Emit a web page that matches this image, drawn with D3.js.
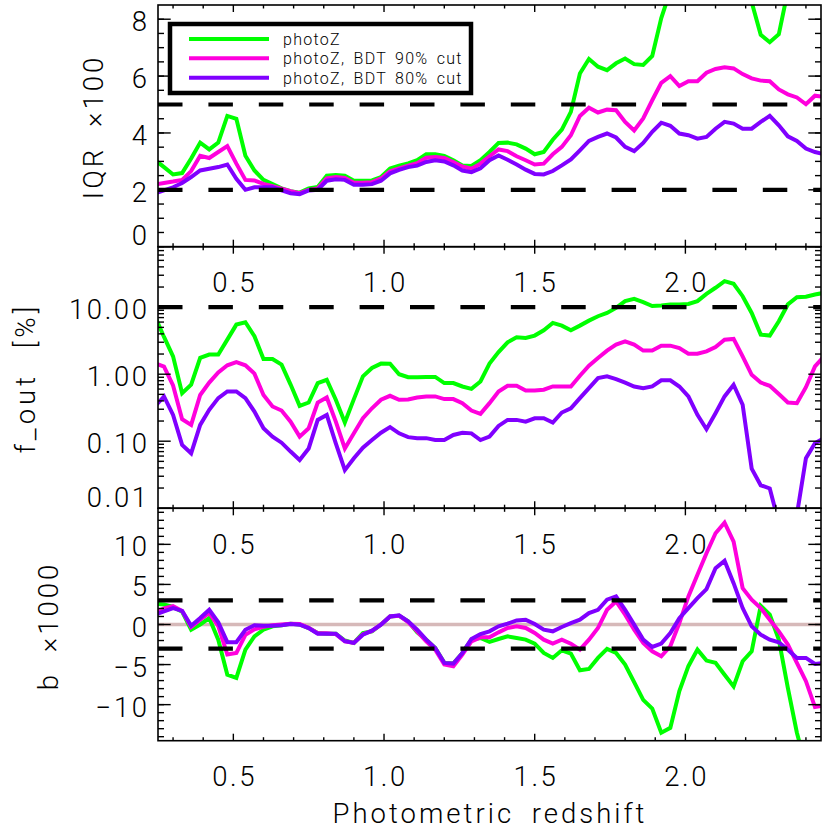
<!DOCTYPE html>
<html><head><meta charset="utf-8">
<script src="https://cdn.jsdelivr.net/npm/d3@7"></script>
<style>
html,body{margin:0;padding:0;background:#fff;}
svg text{font-family:Roboto,"DejaVu Sans",sans-serif;font-weight:300;fill:#000;}
</style></head><body>
<svg id="chart" width="830" height="830"></svg>
<script>
// ---------------- data ----------------
const redshift = [0.24,0.27,0.30,0.33,0.36,0.39,0.42,0.45,0.48,0.51,
  0.54,0.57,0.60,0.63,0.66,0.69,0.72,0.75,0.78,0.81,
  0.84,0.87,0.90,0.93,0.96,0.99,1.02,1.05,1.08,1.11,
  1.14,1.17,1.20,1.23,1.26,1.29,1.32,1.35,1.38,1.41,
  1.44,1.47,1.50,1.53,1.56,1.59,1.62,1.65,1.68,1.71,
  1.74,1.77,1.80,1.83,1.86,1.89,1.92,1.95,1.98,2.01,
  2.04,2.07,2.10,2.13,2.16,2.19,2.22,2.25,2.28,2.31,
  2.34,2.37,2.40,2.43,2.46];

const seriesNames = ["photoZ", "photoZ, BDT 90% cut", "photoZ, BDT 80% cut"];
const seriesColors = ["#00ff00", "#ff00dd", "#8000ff"];

const iqrPhotoZ = [3.05,2.80,2.54,2.59,3.10,3.66,3.42,3.66,4.60,4.50,
  3.20,2.68,2.35,2.20,2.05,1.95,1.90,2.05,2.10,2.50,
  2.52,2.50,2.32,2.32,2.33,2.45,2.75,2.85,2.93,3.04,
  3.25,3.25,3.19,3.04,2.86,2.84,3.04,3.33,3.65,3.66,
  3.60,3.45,3.25,3.33,3.76,4.12,4.74,6.09,6.60,6.33,
  6.21,6.45,6.62,6.42,6.39,6.71,8.04,9.00,10.0,10.8,
  11.2,11.5,11.0,11.2,10.8,9.80,8.60,7.45,7.19,7.47,
  9.00,10.5,11.0,11.0,11.0];
const iqrBDT90 = [2.19,2.24,2.29,2.35,2.66,3.20,3.12,3.33,3.54,2.92,
  2.35,2.33,2.21,2.13,2.04,1.95,1.88,2.00,2.05,2.40,
  2.45,2.42,2.25,2.25,2.27,2.40,2.65,2.75,2.85,2.94,
  3.13,3.15,3.12,2.98,2.82,2.74,2.92,3.18,3.42,3.36,
  3.18,3.04,2.89,2.92,3.25,3.51,3.92,4.60,4.89,4.72,
  4.82,4.80,4.39,4.09,4.51,5.15,5.76,6.00,5.65,5.82,
  5.82,6.12,6.25,6.31,6.27,6.07,5.92,5.84,5.82,5.53,
  5.36,5.25,5.01,5.31,5.27];
const iqrBDT80 = [1.88,1.98,2.09,2.24,2.45,2.68,2.74,2.80,2.89,2.39,
  2.00,2.09,2.09,2.09,1.98,1.88,1.85,1.98,2.00,2.32,
  2.37,2.35,2.18,2.18,2.20,2.32,2.58,2.70,2.80,2.85,
  2.98,3.04,3.00,2.86,2.68,2.62,2.76,3.04,3.21,3.06,
  2.89,2.71,2.56,2.54,2.66,2.86,3.07,3.39,3.72,3.86,
  3.98,3.84,3.51,3.36,3.65,4.04,4.36,4.25,3.98,3.92,
  3.80,3.86,4.15,4.39,4.33,4.15,4.15,4.39,4.60,4.27,
  3.88,3.72,3.45,3.33,3.25];

const foutPhotoZ = [7.3,3.6,1.85,0.52,0.70,1.75,1.96,1.96,3.28,5.5,
  5.97,3.68,1.69,1.69,1.39,0.70,0.337,0.378,0.736,0.826,
  0.415,0.19,0.425,0.93,1.24,1.44,1.43,1.0,0.9,0.9,
  0.91,0.91,0.736,0.736,0.656,0.605,0.78,1.44,2.14,2.99,
  3.56,3.47,3.77,4.53,5.83,5.31,4.53,5.31,6.3,7.33,
  8.22,9.77,12.3,13.3,11.9,10.4,10.6,11.0,11.0,11.2,
  12.3,15.8,19.5,24.5,22.4,14.6,8.2,3.9,3.77,6.17,
  11.0,14.1,14.3,15.5,16.4];
const foutBDT90 = [1.45,1.3,0.68,0.213,0.175,0.49,0.75,1.06,1.36,1.52,
  1.36,1.02,0.49,0.33,0.287,0.196,0.117,0.156,0.378,0.45,
  0.196,0.078,0.131,0.22,0.31,0.415,0.476,0.415,0.42,0.45,
  0.466,0.466,0.425,0.425,0.37,0.287,0.256,0.37,0.553,0.672,
  0.672,0.573,0.573,0.587,0.656,0.656,0.656,0.95,1.34,1.75,
  2.25,2.76,3.1,2.76,2.25,2.25,2.67,2.67,2.46,2.02,
  2.02,2.19,2.55,3.28,3.36,1.85,0.98,0.75,0.672,0.505,
  0.378,0.37,0.64,1.31,1.85];
const foutBDT80 = [0.33,0.466,0.247,0.088,0.066,0.175,0.294,0.44,0.553,0.553,
  0.44,0.277,0.156,0.117,0.095,0.07,0.0525,0.078,0.208,0.247,
  0.093,0.037,0.0556,0.08,0.104,0.134,0.162,0.131,0.115,0.111,
  0.111,0.104,0.104,0.124,0.134,0.131,0.104,0.117,0.169,0.208,
  0.208,0.196,0.22,0.22,0.19,0.268,0.31,0.44,0.62,0.875,
  0.93,0.846,0.75,0.656,0.62,0.656,0.81,0.81,0.656,0.466,
  0.247,0.151,0.262,0.466,0.695,0.35,0.039,0.022,0.0197,0.006,
  0.004,0.008,0.0556,0.093,0.111];

const biasPhotoZ = [2.6,2.5,2.2,1.6,-0.65,0.0,0.8,-1.9,-6.26,-6.66,
  -3.14,-1.48,-0.65,-0.23,-0.1,0.1,0.0,-0.44,-1.06,-1.15,
  -1.15,-2.0,-2.3,-1.06,-0.85,0.0,1.0,1.1,0.4,-0.98,
  -1.89,-2.93,-4.79,-4.88,-3.55,-1.89,-1.68,-2.18,-1.81,-1.48,
  -1.68,-1.89,-2.39,-3.55,-4.17,-3.22,-3.63,-5.71,-5.55,-4.17,
  -3.05,-3.55,-5.0,-7.2,-9.4,-10.5,-13.5,-12.9,-8.3,-5.2,
  -3.14,-4.5,-4.79,-6.26,-7.72,-4.58,-3.34,2.34,1.22,-1.89,
  -7.9,-13.5,-17.7,-20,-22];
const biasBDT90 = [1.5,2.0,2.3,1.7,-0.3,0.6,1.45,-0.2,-3.75,-3.55,
  -1.3,-0.6,-0.3,-0.1,0.0,0.1,0.05,-0.4,-1.1,-1.1,
  -1.2,-2.1,-2.3,-1.2,-0.8,0.0,1.0,1.1,0.3,-0.85,
  -2.1,-3.14,-5.0,-5.21,-3.75,-2.1,-1.6,-1.6,-0.98,-0.44,
  -0.23,-0.44,-1.06,-1.89,-2.39,-1.89,-2.39,-3.14,-1.89,-0.44,
  1.84,2.88,1.22,-0.65,-2.3,-3.34,-3.97,-2.72,0.18,3.5,
  6.2,8.9,11.39,12.71,10.35,4.54,3.09,2.05,0.6,-0.85,
  -2.51,-4.79,-7.07,-10.3,-10.1];
const biasBDT80 = [1.22,1.63,2.05,1.7,-0.15,0.8,1.84,0.27,-2.2,-2.2,
  -0.65,-0.1,-0.15,-0.15,-0.1,0.06,-0.03,-0.44,-1.15,-1.15,
  -1.15,-2.09,-2.3,-1.27,-0.77,-0.03,1.01,1.15,0.39,-0.65,
  -1.89,-2.93,-4.79,-4.88,-3.55,-1.81,-1.19,-0.85,-0.23,0.1,
  0.51,0.6,0.06,-0.65,-0.85,-0.31,0.18,0.6,1.43,1.84,
  3.09,3.5,1.84,-0.02,-1.89,-2.8,-2.39,-1.06,0.8,2.05,
  3.29,4.41,7.03,7.94,5.16,2.05,-0.23,-1.27,-1.89,-2.22,
  -3.14,-4.17,-4.17,-4.92,-4.79];

const xTickValues = [0.5, 1.0, 1.5, 2.0];
const xTickLabels = ["0.5", "1.0", "1.5", "2.0"];
const iqrTickValues = [0, 2, 4, 6, 8];
const iqrTickLabels = ["0", "2", "4", "6", "8"];
const foutTickValues = [0.01, 0.1, 1, 10];
const foutTickLabels = ["0.01", "0.10", "1.00", "10.00"];
const biasTickValues = [-10, -5, 0, 5, 10];
const biasTickLabels = ["\u221210", "\u22125", "0", "5", "10"];
const iqrLimits = [2, 5];
const foutLimits = [10];
const biasLimits = [3, -3];
const xTitle = "Photometric redshift";
const yTitles = ["IQR \u00d7100", "f_out [%]", "b \u00d71000"];

// ---------------- layout ----------------
const svg = d3.select("#chart");
const X0 = 158, X1 = 821;
const x = d3.scaleLinear().domain([0.25, 2.45]).range([X0, X1]);

const minorLog = [];
[0.01, 0.1, 1, 10].forEach(d => { for (let m = 2; m <= 9; m++) { const v = d * m; if (v <= 80) minorLog.push(v); } });

const panels = [
  { top: 5, bottom: 246.7, y: d3.scaleLinear().domain([0, 8.5]).range([246.7, 5]),
    series: [iqrPhotoZ, iqrBDT90, iqrBDT80], ticks: iqrTickValues, labels: iqrTickLabels,
    minor: d3.range(0.5, 8.5, 0.5), limits: iqrLimits, title: yTitles[0], tx: 103, ty: 127, ls: 3, ws: 10 },
  { top: 246.7, bottom: 508.2, y: d3.scaleLog().domain([0.01, 80]).range([508.2, 246.7]),
    series: [foutPhotoZ, foutBDT90, foutBDT80], ticks: foutTickValues, labels: foutTickLabels,
    minor: minorLog, limits: foutLimits, title: yTitles[1], tx: 35, ty: 378, ls: 4, ws: 14 },
  { top: 508.3, bottom: 740.7, y: d3.scaleLinear().domain([-14.5, 14.5]).range([740.7, 508.3]),
    series: [biasPhotoZ, biasBDT90, biasBDT80], ticks: biasTickValues, labels: biasTickLabels,
    minor: d3.range(-14, 14.5, 1), limits: biasLimits, zero: true, title: yTitles[2], tx: 58, ty: 626, ls: 3, ws: 10 }
];

const xMinor = d3.range(0.3, 2.45, 0.1).filter(v => xTickValues.every(t => Math.abs(t - v) > 1e-6));
const LS = 2.6;

panels.forEach((p, pi) => {
  const g = svg.append("g");
  const clipId = "clip" + pi;
  svg.append("clipPath").attr("id", clipId).append("rect")
    .attr("x", X0).attr("y", p.top).attr("width", X1 - X0).attr("height", p.bottom - p.top);
  const inner = g.append("g").attr("clip-path", `url(#${clipId})`);

  if (p.zero) {
    inner.append("line").attr("x1", X0).attr("x2", X1)
      .attr("y1", p.y(0)).attr("y2", p.y(0))
      .attr("stroke", "#d6b9b9").attr("stroke-width", 3.5);
  }
  const line = d3.line().x((d, i) => x(redshift[i])).y(d => p.y(d));
  p.series.forEach((s, si) => {
    inner.append("path").datum(s).attr("d", line)
      .attr("fill", "none").attr("stroke", seriesColors[si])
      .attr("stroke-width", 4).attr("stroke-linejoin", "miter").attr("stroke-miterlimit", 3);
  });
  p.limits.forEach(v => {
    inner.append("line").attr("x1", X0).attr("x2", X1)
      .attr("y1", p.y(v)).attr("y2", p.y(v))
      .attr("stroke", "#000").attr("stroke-width", 4.2)
      .attr("stroke-dasharray", "24.5 25.9");
  });

  // frame
  g.append("rect").attr("x", X0).attr("y", p.top).attr("width", X1 - X0).attr("height", p.bottom - p.top)
    .attr("fill", "none").attr("stroke", "#000").attr("stroke-width", 1.6);

  const tk = g.append("g").attr("stroke", "#000").attr("stroke-width", 1.4);
  xTickValues.forEach(v => {
    tk.append("line").attr("x1", x(v)).attr("x2", x(v)).attr("y1", p.bottom).attr("y2", p.bottom - 7);
    tk.append("line").attr("x1", x(v)).attr("x2", x(v)).attr("y1", p.top).attr("y2", p.top + 7);
  });
  xMinor.forEach(v => {
    tk.append("line").attr("x1", x(v)).attr("x2", x(v)).attr("y1", p.bottom).attr("y2", p.bottom - 3.5);
    tk.append("line").attr("x1", x(v)).attr("x2", x(v)).attr("y1", p.top).attr("y2", p.top + 3.5);
  });
  p.ticks.forEach(v => {
    const yy = p.y(v);
    tk.append("line").attr("x1", X0).attr("x2", X0 + 12.7).attr("y1", yy).attr("y2", yy);
    tk.append("line").attr("x1", X1).attr("x2", X1 - 12.7).attr("y1", yy).attr("y2", yy);
  });
  p.minor.forEach(v => {
    const yy = p.y(v);
    tk.append("line").attr("x1", X0).attr("x2", X0 + 6).attr("y1", yy).attr("y2", yy);
    tk.append("line").attr("x1", X1).attr("x2", X1 - 6).attr("y1", yy).attr("y2", yy);
  });

  p.ticks.forEach((v, i) => {
    const base = Math.min(p.y(v) + 12, p.bottom - 1.5);
    svg.append("text").attr("x", 147 + LS).attr("y", base)
      .attr("text-anchor", "end").attr("font-size", 27.5).attr("letter-spacing", LS)
      .text(p.labels[i]);
  });
  xTickValues.forEach((v, i) => {
    svg.append("text").attr("x", x(v) + LS / 2).attr("y", p.bottom + 45.5)
      .attr("text-anchor", "middle").attr("font-size", 27.5).attr("letter-spacing", LS)
      .text(xTickLabels[i]);
  });
  svg.append("text").attr("transform", `translate(${p.tx},${p.ty}) rotate(-90)`)
    .attr("text-anchor", "middle").attr("font-size", 27.5)
    .attr("letter-spacing", p.ls).attr("word-spacing", p.ws)
    .text(p.title);
});

svg.append("text").attr("x", 490).attr("y", 823).attr("text-anchor", "middle")
  .attr("font-size", 27.5).attr("letter-spacing", 3).attr("word-spacing", 8).text(xTitle);

// legend
const lg = svg.append("g");
lg.append("rect").attr("x", 170).attr("y", 24).attr("width", 301).attr("height", 69)
  .attr("fill", "#fff").attr("stroke", "#000").attr("stroke-width", 4.5);
seriesNames.forEach((n, i) => {
  const yy = 39 + i * 19.35;
  lg.append("line").attr("x1", 189).attr("x2", 269).attr("y1", yy).attr("y2", yy)
    .attr("stroke", seriesColors[i]).attr("stroke-width", 4);
  lg.append("text").attr("x", 283).attr("y", yy + 6).attr("font-size", 16)
    .attr("letter-spacing", 1.3).attr("word-spacing", 3).text(n);
});
</script>
</body></html>
